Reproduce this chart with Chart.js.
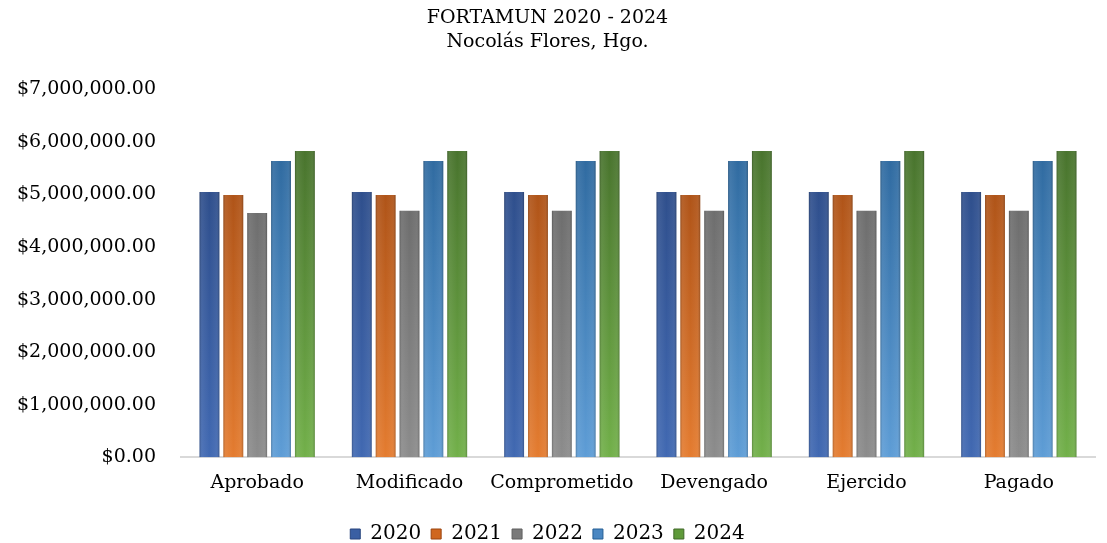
<!DOCTYPE html>
<html>
<head>
<meta charset="utf-8">
<title>FORTAMUN 2020 - 2024</title>
<script src="https://cdn.jsdelivr.net/npm/chart.js@4.4.1/dist/chart.umd.min.js"></script>
<style>
  html, body { margin: 0; padding: 0; background: #fff; }
  #wrap { width: 1107px; height: 543px; }
</style>
</head>
<body>
<div id="wrap"><canvas id="myChart"></canvas></div>
<script>
// datos
var categorias = ['Aprobado', 'Modificado', 'Comprometido', 'Devengado', 'Ejercido', 'Pagado'];
var anios = ['2020', '2021', '2022', '2023', '2024'];
var valores2020 = [5050000, 5050000, 5050000, 5050000, 5050000, 5050000];
var valores2021 = [4990000, 4990000, 4990000, 4990000, 4990000, 4990000];
var valores2022 = [4650000, 4690000, 4690000, 4690000, 4690000, 4690000];
var valores2023 = [5640000, 5640000, 5640000, 5640000, 5640000, 5640000];
var valores2024 = [5830000, 5830000, 5830000, 5830000, 5830000, 5830000];
var titulo = ['FORTAMUN 2020 - 2024', 'Nocolás Flores, Hgo.'];

// colores arriba / abajo / medio
var colArriba = ['#28457e', '#9a440f', '#5f5f5f', '#255f94', '#416828'];
var colAbajo = ['#4169b2', '#e47c30', '#8c8c8c', '#5e9dd6', '#72b04a'];
var colMedio = ['#3a5fa3', '#d0671e', '#7a7a7a', '#4a87c2', '#5f9a3a'];

var FUENTE = "'DejaVu Serif', Georgia, serif";

function gradiente(i) {
  return function (ctx) {
    var chart = ctx.chart;
    var area = chart.chartArea;
    if (!area) return colMedio[i];
    var g = chart.ctx.createLinearGradient(0, area.top, 0, area.bottom);
    g.addColorStop(0, colArriba[i]);
    g.addColorStop(1, colAbajo[i]);
    return g;
  };
}

function dinero(v) {
  return '$' + Number(v).toLocaleString('en-US', { minimumFractionDigits: 2, maximumFractionDigits: 2 });
}

var todos = [valores2020, valores2021, valores2022, valores2023, valores2024];
var datasets = [];
for (var i = 0; i < anios.length; i++) {
  datasets.push({
    label: anios[i],
    data: todos[i],
    backgroundColor: gradiente(i),
    borderWidth: 0,
    categoryPercentage: 0.783,
    barPercentage: 0.833
  });
}

// sombreado lateral de cada barra (efecto cilindro)
var brillo = {
  id: 'brillo',
  afterDatasetsDraw: function (chart) {
    var c = chart.ctx;
    chart.data.datasets.forEach(function (ds, di) {
      var meta = chart.getDatasetMeta(di);
      meta.data.forEach(function (bar) {
        var p = bar.getProps(['x', 'y', 'width', 'base'], true);
        var x0 = p.x - p.width / 2, x1 = p.x + p.width / 2;
        var g = c.createLinearGradient(x0, 0, x1, 0);
        g.addColorStop(0, 'rgba(0,0,0,0.22)');
        g.addColorStop(0.12, 'rgba(255,255,255,0.08)');
        g.addColorStop(0.5, 'rgba(255,255,255,0)');
        g.addColorStop(0.85, 'rgba(255,255,255,0.06)');
        g.addColorStop(1, 'rgba(0,0,0,0.22)');
        c.save();
        c.fillStyle = g;
        c.fillRect(x0, p.y, p.width, p.base - p.y);
        c.restore();
      });
    });
  }
};

var ctx = document.getElementById('myChart').getContext('2d');
window.chart = new Chart(ctx, {
  type: 'bar',
  data: { labels: categorias, datasets: datasets },
  plugins: [brillo],
  options: {
    responsive: true,
    maintainAspectRatio: false,
    animation: false,
    layout: { padding: { left: 0, right: 12, top: 0, bottom: -11 } },
    plugins: {
      title: {
        display: true,
        text: titulo,
        color: '#000',
        font: { family: FUENTE, size: 19, weight: 'normal', lineHeight: 1.25 },
        padding: { top: 6, bottom: 36 }
      },
      legend: {
        position: 'bottom',
        // titulo vacio solo para dejar espacio sobre la leyenda
        title: { display: true, text: '', font: { size: 1, lineHeight: 1 }, padding: { top: 13, bottom: 0 } },
        labels: {
          color: '#000',
          font: { family: FUENTE, size: 20 },
          boxWidth: 10,
          boxHeight: 10,
          padding: 10,
          generateLabels: function (chart) {
            var items = Chart.defaults.plugins.legend.labels.generateLabels(chart);
            items.forEach(function (it, k) {
              it.fillStyle = colMedio[k];
              it.strokeStyle = colArriba[k];
              it.lineWidth = 1;
            });
            return items;
          }
        }
      },
      tooltip: { enabled: false }
    },
    scales: {
      x: {
        grid: { display: false },
        border: { display: true, color: '#d9d9d9', width: 2 },
        ticks: { color: '#000', font: { family: FUENTE, size: 19 }, padding: 6 }
      },
      y: {
        min: 0,
        max: 7000000,
        grid: { display: false },
        border: { display: false },
        ticks: {
          stepSize: 1000000,
          color: '#000',
          font: { family: FUENTE, size: 19 },
          padding: 17,
          callback: function (v) { return dinero(v); }
        }
      }
    }
  }
});
</script>
</body>
</html>
